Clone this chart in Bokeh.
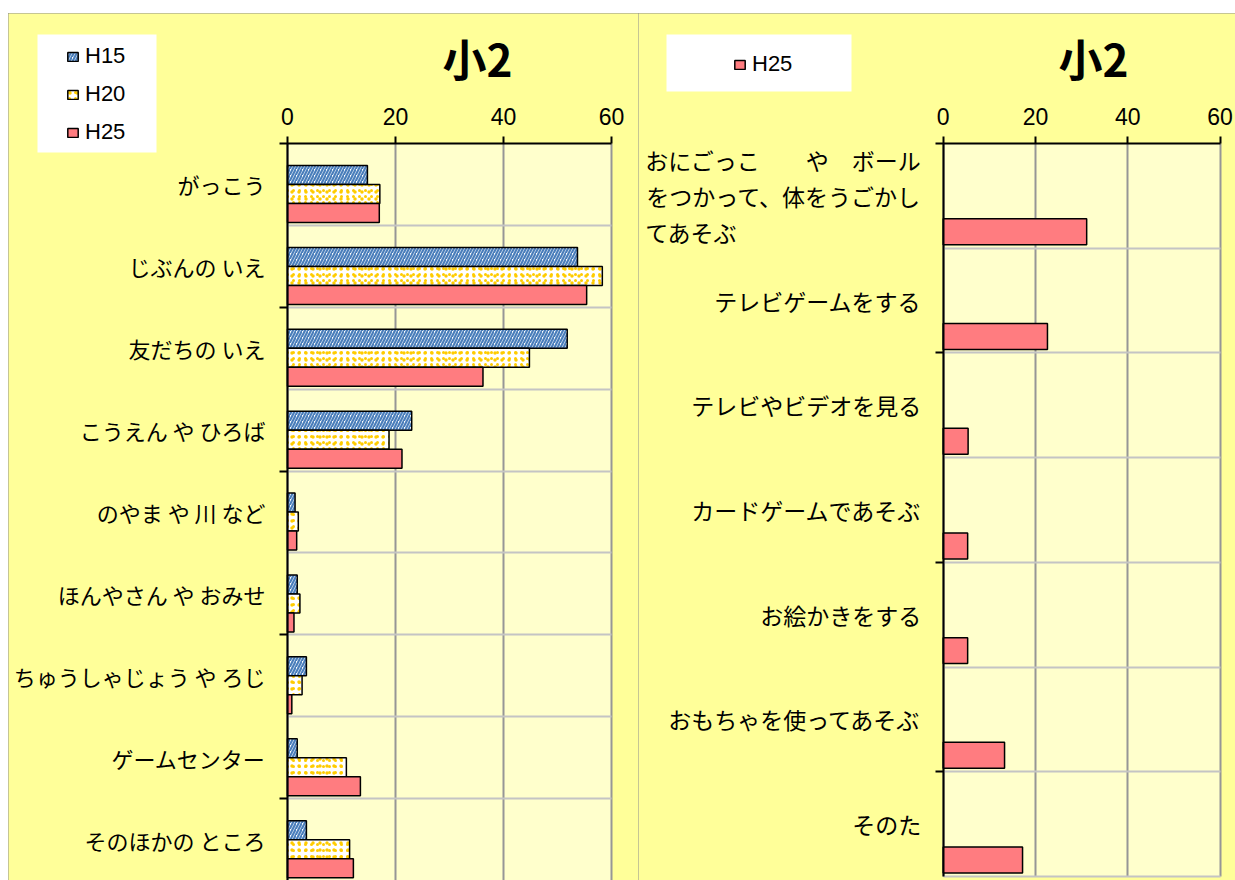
from bokeh.plotting import figure
from bokeh.models import (Range1d, FixedTicker, ColumnDataSource, Legend, LegendItem,
                          Label, BoxAnnotation, Spacer)
from bokeh.layouts import row, column
from bokeh.transform import dodge
from bokeh.embed import file_html
from bokeh.resources import INLINE

# ---------------- data ----------------
title_text = "小2"
series = ["H15", "H20", "H25"]
x_ticks = [0, 20, 40, 60]

places = ["がっこう", "じぶんの いえ", "友だちの いえ", "こうえん や ひろば", "のやま や 川 など",
          "ほんやさん や おみせ", "ちゅうしゃじょう や ろじ", "ゲームセンター", "そのほかの ところ"]
h15 = [14.8, 53.7, 51.8, 23.0, 1.4, 1.8, 3.5, 1.8, 3.5]
h20 = [17.1, 58.3, 44.8, 18.8, 2.0, 2.3, 2.7, 10.9, 11.5]
h25 = [17.0, 55.4, 36.2, 21.2, 1.7, 1.2, 0.8, 13.5, 12.2]

activities = ["おにごっこ\u3000\u3000や\u3000ボール\nをつかって、体をうごかし\nてあそぶ" + "\u3000" * 8,
              "テレビゲームをする", "テレビやビデオを見る", "カードゲームであそぶ",
              "お絵かきをする", "おもちゃを使ってあそぶ", "そのた"]
act_h25 = [31.1, 22.6, 5.4, 5.3, 5.3, 13.3, 17.2]

# ---------------- styles ----------------
OUTER = "#FFFF99"
INNER = "#FFFFCC"
BLUE = "#4A7EBB"
GOLD = "#FFCC00"
PINK = "#FF7C80"
JP = "Noto Sans CJK JP"
LAT = "Liberation Sans"
PAGE_TOP = 13
PAGE_BOTTOM = 880
FIG_H = PAGE_BOTTOM - PAGE_TOP


class Frame:
    """maps page pixels to data units for one chart"""
    def __init__(self, left_px, right_px, x0_px, x60_px, top_px, band_px):
        self.left_px, self.right_px = left_px, right_px
        self.x0, self.ppx = x0_px, (x60_px - x0_px) / 60.0
        self.top, self.ppy = top_px, band_px

    def x(self, px):
        return (px - self.x0) / self.ppx

    def y(self, py):
        return (py - self.top) / self.ppy


def base_fig(fr, n, names, label_size):
    p = figure(width=fr.right_px - fr.left_px, height=FIG_H,
               x_range=Range1d(fr.x(fr.left_px), fr.x(fr.right_px)),
               y_range=Range1d(start=fr.y(PAGE_BOTTOM), end=fr.y(PAGE_TOP)),
               x_axis_location="above", output_backend="svg", toolbar_location=None,
               min_border=0)
    p.border_fill_color = OUTER
    p.background_fill_color = OUTER
    p.outline_line_color = None
    p.styles = {"outline": "1px solid #8c8c8c", "outline-offset": "-1px"}

    # plot area fill
    p.add_layout(BoxAnnotation(left=0, right=60, top=0, bottom=n, fill_color=INNER,
                               fill_alpha=1, line_color=None, level="image"))

    xa = p.xaxis[0]
    xa.fixed_location = 0
    xa.bounds = (fr.x(fr.x0 - 8), 60)
    xa.ticker = FixedTicker(ticks=x_ticks)
    xa.major_label_text_font = LAT
    xa.major_label_text_font_size = "23px"
    xa.major_label_text_color = "black"
    xa.axis_line_color = "black"
    xa.axis_line_width = 2
    xa.major_tick_line_color = "black"
    xa.major_tick_line_width = 2
    xa.major_tick_out = 7
    xa.major_tick_in = 0
    xa.minor_tick_line_color = None
    xa.major_label_standoff = 12

    centers = [i + 0.5 for i in range(n)]
    ya = p.yaxis[0]
    ya.fixed_location = 0
    ya.bounds = (0, n)
    ya.ticker = FixedTicker(ticks=centers, minor_ticks=list(range(2, n, 2)))
    ya.major_label_overrides = {c: nm for c, nm in zip(centers, names)}
    ya.major_tick_line_color = None
    ya.major_tick_out = 0
    ya.major_tick_in = 0
    ya.minor_tick_line_color = "black"
    ya.minor_tick_line_width = 2
    ya.minor_tick_out = 8
    ya.minor_tick_in = 0
    ya.axis_line_color = "black"
    ya.axis_line_width = 2
    ya.major_label_text_font = JP
    ya.major_label_text_font_size = label_size
    ya.major_label_text_color = "black"
    ya.major_label_text_line_height = 1.05
    ya.major_label_standoff = 14

    xg, yg = p.xgrid[0], p.ygrid[0]
    xg.ticker = FixedTicker(ticks=x_ticks)
    xg.grid_line_color = "#969696"
    xg.grid_line_width = 2
    yg.ticker = FixedTicker(ticks=list(range(1, n + 1)))
    yg.grid_line_color = "#C4C4C4"
    yg.grid_line_width = 2
    if "cross_bounds" in xg.properties():
        xg.cross_bounds = (0, n)
        yg.cross_bounds = (0, 60)
    return p, centers


def styled_bar(p, src, field, off, height, kind):
    """returns the list of renderers that make up one series' bars"""
    kw = dict(y=dodge("yc", off), right=field, left=0, height=height, source=src)
    if kind == "H15":
        return [p.hbar(**kw, fill_color="white", hatch_pattern="/", hatch_color=BLUE,
                       hatch_scale=6, hatch_weight=2.2, line_color="black", line_width=1.5)]
    if kind == "H20":
        # two offset dot textures give the scattered gold squares of the original
        under = p.hbar(**kw, fill_color="white", hatch_pattern=".", hatch_color=GOLD,
                       hatch_scale=7, hatch_weight=4, line_color=None)
        over = p.hbar(**kw, fill_alpha=0, hatch_pattern=".", hatch_color=GOLD,
                      hatch_scale=6, hatch_weight=4, line_color="black", line_width=1.5)
        return [under, over]
    return [p.hbar(**kw, fill_color=PINK, line_color="black", line_width=1.5)]


def legend(items, glyph_left, first_center, n_items, fr):
    item_h, gap = 26, 12
    bottom = first_center - item_h / 2 + n_items * item_h + (n_items - 1) * gap
    return Legend(items=items, location=(glyph_left - fr.left_px, PAGE_BOTTOM - bottom),
                  orientation="vertical", padding=0, margin=0, spacing=gap,
                  glyph_width=13, glyph_height=11, label_height=11, label_standoff=6,
                  label_text_font=LAT, label_text_font_size="22px",
                  label_text_color="black", background_fill_alpha=0,
                  border_line_color=None)


def title(p, fr, cx):
    p.add_layout(Label(x=fr.x(cx), y=fr.y(57), text=title_text, text_font=JP,
                       text_font_style="bold", text_font_size="44px",
                       text_color="black", text_align="center",
                       text_baseline="middle"))


# ---------------- left chart ----------------
fr1 = Frame(8, 638, 287, 611, 143, 737 / 9)
n1 = len(places)
p1, c1 = base_fig(fr1, n1, places, "22px")
src1 = ColumnDataSource(dict(yc=c1, H15=h15, H20=h20, H25=h25))
offs1 = {"H15": -0.115, "H20": 0.117, "H25": 0.349}
rs1 = [styled_bar(p1, src1, s, offs1[s], 0.232, s) for s in series]
p1.add_layout(BoxAnnotation(left=fr1.x(37), right=fr1.x(156), top=fr1.y(34),
                            bottom=fr1.y(152), fill_color="white", fill_alpha=1,
                            line_color=None))
p1.add_layout(legend([LegendItem(label=s, renderers=r) for s, r in zip(series, rs1)],
                     66, 56, 3, fr1))
title(p1, fr1, 477)

# ---------------- right chart ----------------
fr2 = Frame(638, 1235, 942.7, 1219.5, 143, 733 / 7)
n2 = len(activities)
p2, c2 = base_fig(fr2, n2, activities, "23px")
src2 = ColumnDataSource(dict(yc=c2, H25=act_h25))
r2 = styled_bar(p2, src2, "H25", 0.343, 0.248, "H25")
p2.add_layout(BoxAnnotation(left=fr2.x(666), right=fr2.x(851), top=fr2.y(34),
                            bottom=fr2.y(91), fill_color="white", fill_alpha=1,
                            line_color=None))
p2.add_layout(legend([LegendItem(label="H25", renderers=r2)], 733, 64, 1, fr2))
title(p2, fr2, 1093)

layout = column(Spacer(width=1235, height=PAGE_TOP),
                row(Spacer(width=8, height=FIG_H), p1, p2))
open("out.html", "w").write(file_html(layout, INLINE, title="小2"))
